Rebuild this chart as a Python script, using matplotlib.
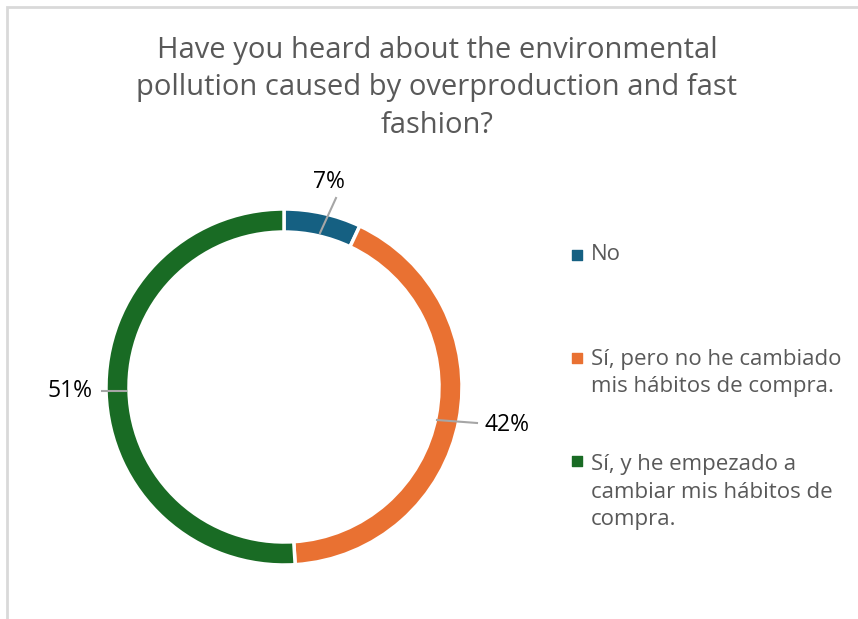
import matplotlib.pyplot as plt
from matplotlib.patches import Rectangle

plt.rcParams['font.family'] = ['Open Sans', 'DejaVu Sans']

title = 'Have you heard about the environmental\npollution caused by overproduction and fast\nfashion?'
labels = ['No', 'Sí, pero no he cambiado\nmis hábitos de compra.',
          'Sí, y he empezado a\ncambiar mis hábitos de\ncompra.']
values = [7, 42, 51]
colors = ['#156082', '#E97132', '#196B24']

W, H = 858, 619
fig = plt.figure(figsize=(W / 100, H / 100), dpi=100)
ax = fig.add_axes([0, 0, 1, 1])
ax.set_xlim(0, W)
ax.set_ylim(0, H)
ax.set_aspect('equal')
ax.axis('off')

# chart frame (only left and top edges visible)
fig.patches.append(Rectangle((7 / W, -0.1), 1.2, 1 - 7 / H + 0.1, transform=fig.transFigure,
                             fill=False, edgecolor='#d9d9d9', linewidth=2))

cx, cy, r = 284, H - 387, 178
wedges, _ = ax.pie(values, colors=colors, startangle=90, counterclock=False,
                   center=(cx, cy), radius=r, frame=True,
                   wedgeprops=dict(width=23, edgecolor='white', linewidth=2.5))
ax.set_xlim(0, W)
ax.set_ylim(0, H)
ax.axis('off')

# data labels with leader lines
label_pos = [(329, 182), (507, 425), (70, 391)]
leader = [((320, 233), (336, 198)), ((437, 420), (477, 423)), ((126, 391), (102, 391))]
for v, (tx, ty), (p0, p1) in zip(values, label_pos, leader):
    ax.plot([p0[0], p1[0]], [H - p0[1], H - p1[1]], color='#a6a6a6', linewidth=1.5)
    ax.text(tx, H - ty, f'{v}%', ha='center', va='center', fontsize=16.5, color='#000000')

ax.text(437, H - 88, title, ha='center', va='center', fontsize=21, color='#595959',
        linespacing=1.375)

# legend
centers = [255, 373, 492]
line_h = 31
for lab, col, c in zip(labels, colors, centers):
    n = lab.count('\n') + 1
    first = c - (n - 1) / 2 * line_h
    ax.text(591, H - c, lab, ha='left', va='center', fontsize=16, color='#595959',
            linespacing=1.4)
    ax.scatter([577], [H - first], marker='s', s=42, color=col)

fig.savefig('out.png', dpi=100)
